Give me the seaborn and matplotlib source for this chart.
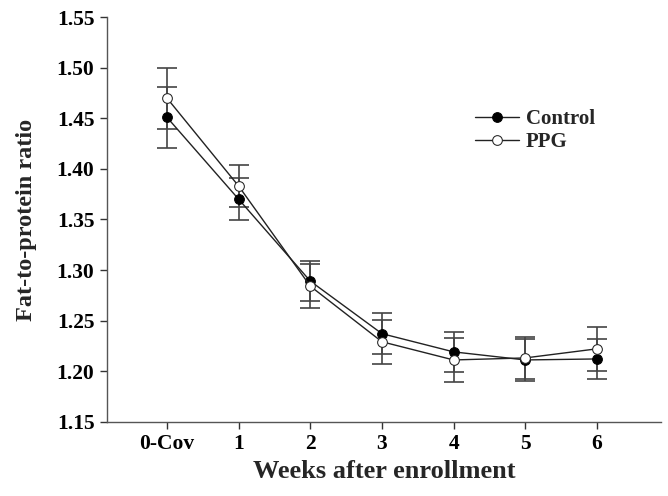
import numpy as np
import pandas as pd
import seaborn as sns
import matplotlib.pyplot as plt

# Data
weeks = ['0-Cov', '1', '2', '3', '4', '5', '6']
control = [1.451, 1.370, 1.289, 1.237, 1.219, 1.211, 1.212]
control_err = [0.030, 0.021, 0.020, 0.020, 0.020, 0.021, 0.020]
ppg = [1.470, 1.383, 1.284, 1.229, 1.211, 1.213, 1.222]
ppg_err = [0.030, 0.021, 0.022, 0.022, 0.022, 0.021, 0.022]

sns.set_style('ticks')
plt.rcParams['font.family'] = ['Liberation Serif', 'DejaVu Serif']
plt.rcParams['font.weight'] = 'bold'

x = np.arange(len(weeks))
df = pd.DataFrame({'x': np.concatenate([x, x]),
                   'ratio': control + ppg,
                   'group': ['Control'] * len(x) + ['PPG'] * len(x)})

fig, ax = plt.subplots(figsize=(6.68, 4.96), dpi=100)

# error bars first so markers sit on top
ax.errorbar(x, control, yerr=control_err, fmt='none', ecolor='#444444',
            elinewidth=1.2, capsize=7, capthick=1.2, zorder=1)
ax.errorbar(x, ppg, yerr=ppg_err, fmt='none', ecolor='#444444',
            elinewidth=1.2, capsize=7, capthick=1.2, zorder=1)

sns.lineplot(data=df[df.group == 'Control'], x='x', y='ratio', ax=ax,
             color='#222222', lw=1, marker='o', markersize=7,
             markerfacecolor='black', markeredgecolor='black', label='Control', zorder=3)
sns.lineplot(data=df[df.group == 'PPG'], x='x', y='ratio', ax=ax,
             color='#222222', lw=1, marker='o', markersize=7,
             markerfacecolor='white', markeredgecolor='#222222', label='PPG', zorder=3)

ax.set_xlim(-0.84, 6.9)
ax.set_ylim(1.15, 1.55)
yt = np.arange(1.15, 1.551, 0.05)
ax.set_yticks(yt)
ax.set_yticklabels([f'{v:.2f}' for v in yt])
ax.set_xticks(x)
ax.set_xticklabels(weeks)
ax.tick_params(labelsize=15.5, width=1, length=5, pad=4, colors='#333333', labelcolor='black')
ax.tick_params(axis='x', pad=4)
for lab in ax.get_xticklabels() + ax.get_yticklabels():
    lab.set_fontweight('bold')

sns.despine(ax=ax)
for s in ['left', 'bottom']:
    ax.spines[s].set_color('#555555')
    ax.spines[s].set_linewidth(1)

ax.set_xlabel('Weeks after enrollment', fontsize=19, fontweight='bold', labelpad=4)
ax.set_ylabel('Fat-to-protein ratio', fontsize=17.5, fontweight='bold', labelpad=14)

ax.legend(loc='upper left', bbox_to_anchor=(0.63, 0.82), frameon=False,
          handlelength=2.1, handletextpad=0.35, labelspacing=0.15,
          prop={'weight': 'bold', 'size': 15})

plt.subplots_adjust(left=0.16, right=0.99, top=0.965, bottom=0.15)
fig.savefig('out.png', dpi=100)
